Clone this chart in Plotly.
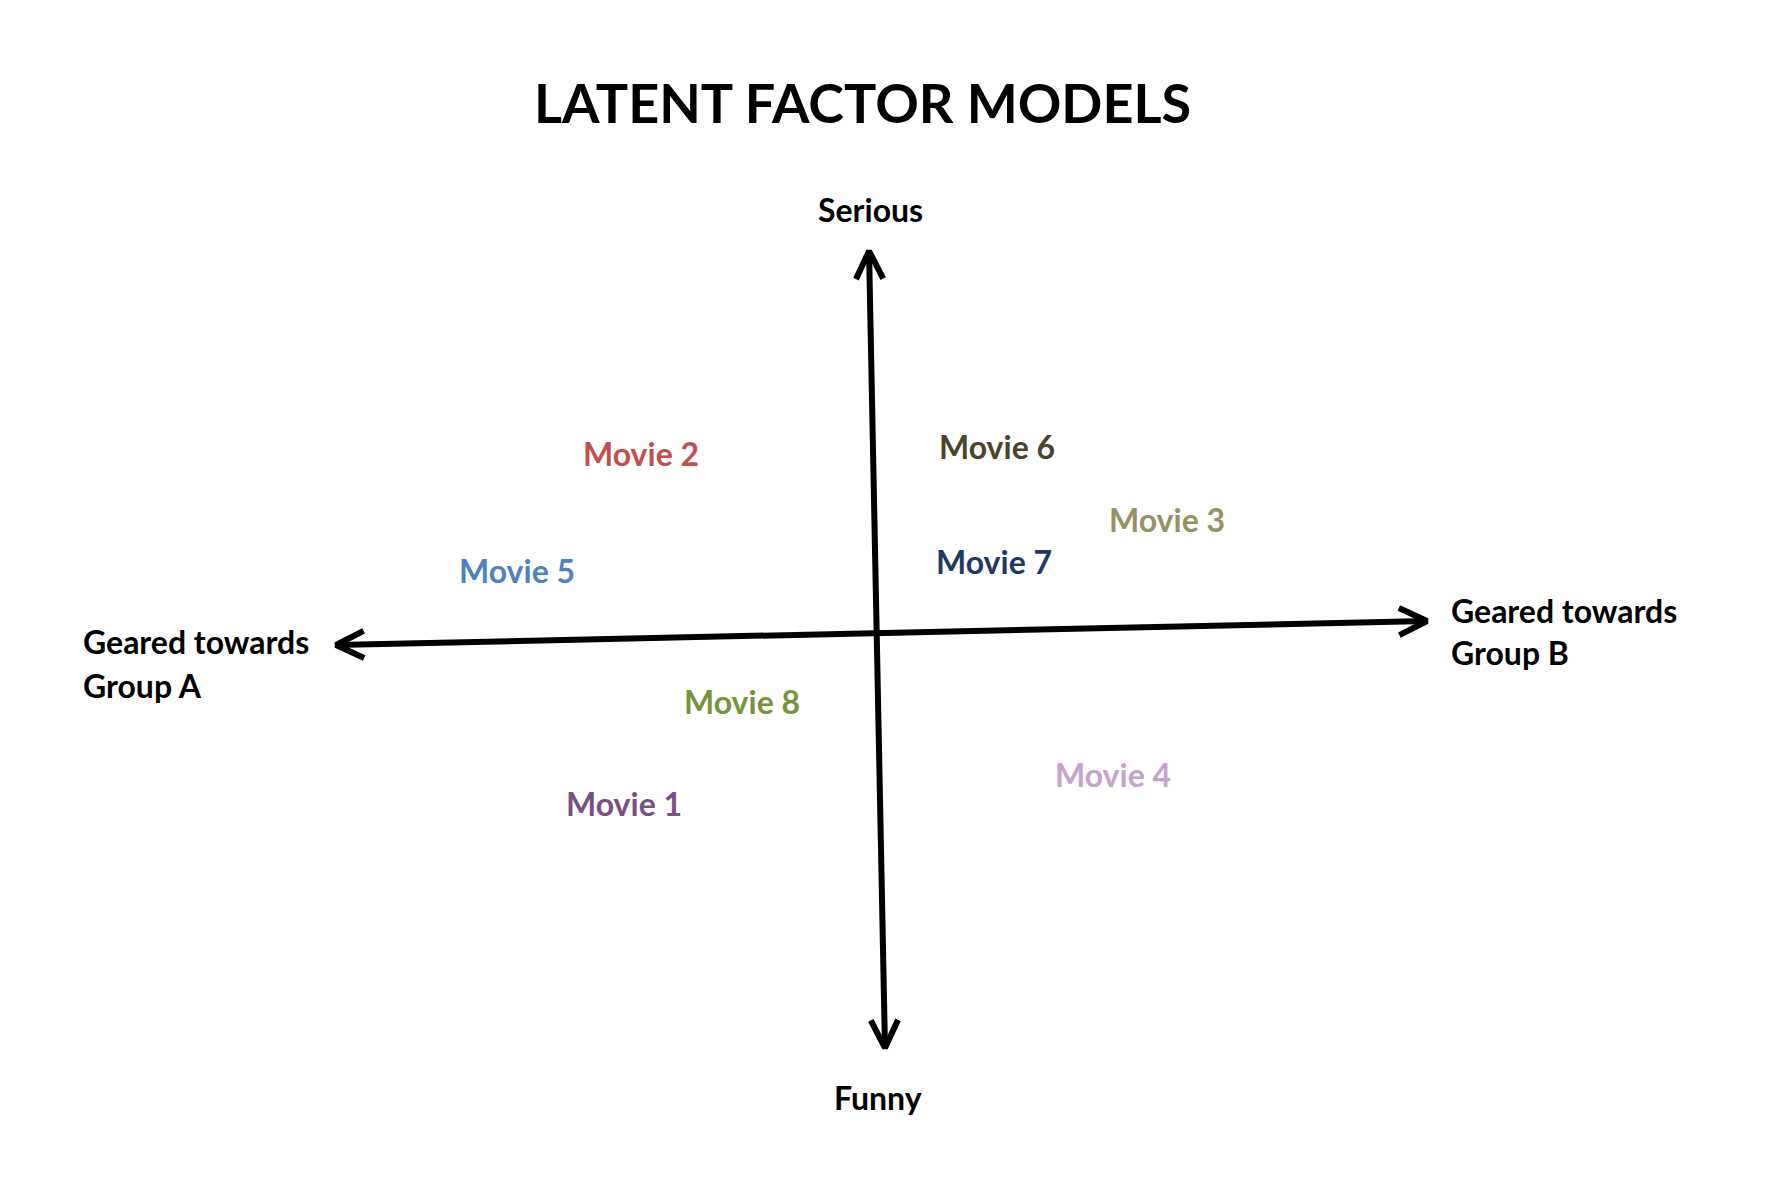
import plotly.graph_objects as go
import math

# ---- data: movie positions in latent-factor space ----
# x: Geared towards Group A (-) .. Group B (+); y: Funny (-) .. Serious (+)
movies = ["Movie 1", "Movie 2", "Movie 3", "Movie 4", "Movie 5", "Movie 6", "Movie 7", "Movie 8"]
factor_x = [-0.46, -0.429, 0.527, 0.429, -0.655, 0.218, 0.213, -0.245]
factor_y = [-0.425, 0.45, 0.285, -0.3525, 0.1575, 0.4675, 0.18, -0.17]
colors = ["#7A4F83", "#C0504D", "#959263", "#C6A3CE", "#4F81BD", "#4A452A", "#1F3864", "#77933C"]

# axis endpoints (hand-drawn look, slightly tilted), in factor units
axis_h = ([-0.9836, 1.0], [-0.03, 0.03])
axis_v = ([-0.0145, 0.0145], [0.955, -1.0375])

W, H = 1770, 1179
x_range = [-877 / 550, (W - 877) / 550]
y_range = [(633 - H) / 400, 633 / 400]
px_x = W / (x_range[1] - x_range[0])  # pixels per unit
px_y = H / (y_range[1] - y_range[0])

fig = go.Figure()

def add_line(xs, ys):
    fig.add_trace(go.Scatter(x=xs, y=ys, mode="lines",
                             line=dict(color="black", width=6),
                             hoverinfo="skip", showlegend=False))

def arrow_head(x0, y0, x1, y1, length=31, ang=26):
    dx = (x1 - x0) * px_x
    dy = (y1 - y0) * px_y
    a = math.atan2(dy, dx)
    pts = []
    for s in (1, -1):
        b = a + math.pi + s * math.radians(ang)
        pts.append((x1 + length * math.cos(b) / px_x, y1 + length * math.sin(b) / px_y))
    add_line([pts[0][0], x1, pts[1][0]], [pts[0][1], y1, pts[1][1]])

add_line(axis_h[0], axis_h[1])
add_line(axis_v[0], axis_v[1])
arrow_head(axis_h[0][1], axis_h[1][1], axis_h[0][0], axis_h[1][0])
arrow_head(axis_h[0][0], axis_h[1][0], axis_h[0][1], axis_h[1][1])
arrow_head(axis_v[0][1], axis_v[1][1], axis_v[0][0], axis_v[1][0])
arrow_head(axis_v[0][0], axis_v[1][0], axis_v[0][1], axis_v[1][1])

FONT = "Lato"
annotations = []
for name, x, y, c in zip(movies, factor_x, factor_y, colors):
    annotations.append(dict(x=x, y=y, xref="x", yref="y", text=f"<b>{name}</b>",
                            showarrow=False, xanchor="center", yanchor="middle",
                            font=dict(family=FONT, size=32, color=c)))

label_font = dict(family=FONT, size=32, color="black")

def label(px, py, text, xanchor):
    annotations.append(dict(x=(px - 877) / px_x, y=(633 - py) / px_y, xref="x", yref="y",
                            text=f"<b>{text}</b>", showarrow=False, xanchor=xanchor,
                            yanchor="middle", font=label_font))

label(870, 209, "Serious", "center")
label(878, 1097, "Funny", "center")
label(81, 641, "Geared towards", "left")
label(81, 685, "Group A", "left")
label(1449, 610, "Geared towards", "left")
label(1449, 652, "Group B", "left")

annotations.append(dict(x=862 / W, y=1 - 102 / H, xref="paper", yref="paper",
                        text="<b>LATENT FACTOR MODELS</b>", showarrow=False,
                        xanchor="center", yanchor="middle",
                        font=dict(family=FONT, size=54, color="black")))

fig.update_layout(
    width=W, height=H,
    margin=dict(l=0, r=0, t=0, b=0),
    paper_bgcolor="white", plot_bgcolor="white",
    xaxis=dict(range=x_range, visible=False, fixedrange=True),
    yaxis=dict(range=y_range, visible=False, fixedrange=True),
    annotations=annotations,
    showlegend=False,
)

fig.write_html("out.html", config={"displayModeBar": False})
